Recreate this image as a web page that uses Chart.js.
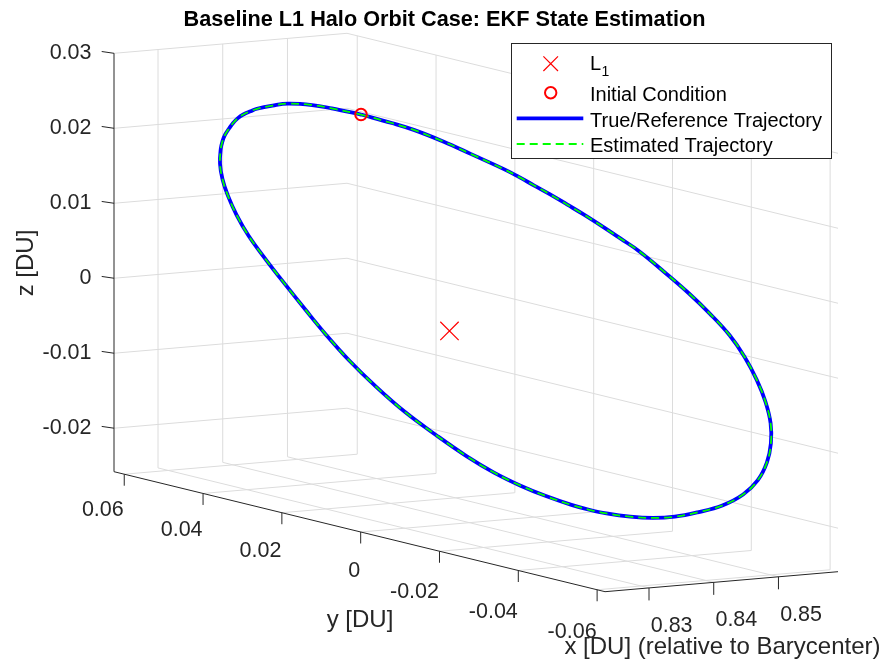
<!DOCTYPE html>
<html lang="en">
<head>
<meta charset="UTF-8">
<title>Baseline L1 Halo Orbit Case: EKF State Estimation</title>
<style>
    body { margin: 0; background: #ffffff; }
    #wrap { width: 889px; height: 663px; }
</style>
</head>
<body>
<div id="wrap"><canvas id="orbit" width="889" height="663"></canvas></div>

<script src="https://cdn.jsdelivr.net/npm/chart.js@4.4.1/dist/chart.umd.min.js"></script>
<script>
    // axis limits [DU] and ticks
    const xLim = [0.8232, 0.8592];
    const yLim = [-0.0620, 0.0626];
    const zLim = [-0.0258, 0.0300];
    const xTicks = [0.83, 0.84, 0.85];
    const yTicks = [0.06, 0.04, 0.02, 0, -0.02, -0.04, -0.06];
    const zTicks = [-0.02, -0.01, 0, 0.01, 0.02, 0.03];
    const xTickLabels = ['0.83', '0.84', '0.85'];
    const yTickLabels = ['0.06', '0.04', '0.02', '0', '-0.02', '-0.04', '-0.06'];
    const zTickLabels = ['-0.02', '-0.01', '0', '0.01', '0.02', '0.03'];

    // Earth-Moon L1 and the initial condition
    const l1 = [0.83692, 0, 0];
    const ic = [0.82325, 0, 0.02987];

    // reference halo orbit (one period, closed)
    const refX = [
        0.82325,
        0.82335, 0.82355, 0.82400, 0.82493, 0.82625, 0.82688, 0.82754, 0.82835, 0.82931,
        0.83031, 0.83153, 0.83261, 0.83390, 0.83583, 0.83787, 0.83989, 0.84211, 0.84420,
        0.84650, 0.84866, 0.85059, 0.85221, 0.85368, 0.85508, 0.85615, 0.85703, 0.85736,
        0.85776, 0.85811, 0.85834, 0.85847,
        0.85850,
        0.85847, 0.85834, 0.85811, 0.85776, 0.85736, 0.85703, 0.85615, 0.85508, 0.85368,
        0.85221, 0.85059, 0.84866, 0.84650, 0.84420, 0.84211, 0.83989, 0.83787, 0.83583,
        0.83390, 0.83261, 0.83153, 0.83031, 0.82931, 0.82835, 0.82754, 0.82688, 0.82625,
        0.82493, 0.82400, 0.82355, 0.82335,
        0.82325
    ];
    const refY = [
        0,
        -0.00761, -0.01290, -0.01977, -0.02520, -0.03134, -0.03398, -0.03692, -0.03961, -0.04241,
        -0.04499, -0.04812, -0.05053, -0.05308, -0.05644, -0.05916, -0.06111, -0.06257, -0.06294,
        -0.06224, -0.06092, -0.05904, -0.05645, -0.05303, -0.04842, -0.04293, -0.03621, -0.02937,
        -0.02293, -0.01676, -0.01070, -0.00445,
        0,
        0.00445, 0.01070, 0.01676, 0.02293, 0.02937, 0.03621, 0.04293, 0.04842, 0.05303,
        0.05645, 0.05904, 0.06092, 0.06224, 0.06294, 0.06257, 0.06111, 0.05916, 0.05644,
        0.05308, 0.05053, 0.04812, 0.04499, 0.04241, 0.03961, 0.03692, 0.03398, 0.03134,
        0.02520, 0.01977, 0.01290, 0.00761,
        0
    ];
    const refZ = [
        0.02987,
        0.02971, 0.02946, 0.02873, 0.02770, 0.02639, 0.02568, 0.02482, 0.02393, 0.02285,
        0.02177, 0.02035, 0.01911, 0.01768, 0.01513, 0.01255, 0.00997, 0.00707, 0.00407,
        0.00075, -0.00253, -0.00575, -0.00888, -0.01196, -0.01503, -0.01773, -0.02012, -0.02194,
        -0.02338, -0.02436, -0.02499, -0.02537,
        -0.02545,
        -0.02537, -0.02499, -0.02436, -0.02338, -0.02194, -0.02012, -0.01773, -0.01503, -0.01196,
        -0.00888, -0.00575, -0.00253, 0.00075, 0.00407, 0.00707, 0.00997, 0.01255, 0.01513,
        0.01768, 0.01911, 0.02035, 0.02177, 0.02285, 0.02393, 0.02482, 0.02568, 0.02639,
        0.02770, 0.02873, 0.02946, 0.02971,
        0.02987
    ];
    // EKF estimate sits on top of the reference at this scale
    const estX = refX;
    const estY = refY;
    const estZ = refZ;

    // view: screen spot of the (xmin, ymin, zmin) corner and the screen vector of each box edge
    const view = { origin: [605, 591.7], ex: [233, -20], ey: [-491, -120], ez: [0, -418.4] };

    function project(x, y, z) {
        const fx = (x - xLim[0]) / (xLim[1] - xLim[0]);
        const fy = (y - yLim[0]) / (yLim[1] - yLim[0]);
        const fz = (z - zLim[0]) / (zLim[1] - zLim[0]);
        return {
            x: view.origin[0] + fx * view.ex[0] + fy * view.ey[0] + fz * view.ez[0],
            y: view.origin[1] + fx * view.ex[1] + fy * view.ey[1] + fz * view.ez[1]
        };
    }

    function track(xs, ys, zs) {
        return xs.map((x, i) => project(x, ys[i], zs[i]));
    }

    const FONT = '"Liberation Sans", Arial, Helvetica, sans-serif';
    const AXIS_COLOR = '#262626';
    const GRID_COLOR = '#dcdcdc';

    function label(ctx, str, x, y, align, font, color) {
        ctx.font = font;
        ctx.fillStyle = color;
        ctx.textAlign = align;
        ctx.textBaseline = 'alphabetic';
        ctx.fillText(str, x, y);
    }

    // grid on the back walls and floor, rulers with ticks
    const axes3d = {
        id: 'axes3d',
        beforeDatasetsDraw(chart) {
            const ctx = chart.ctx;
            const sx = chart.scales.x, sy = chart.scales.y;
            const px = p => [sx.getPixelForValue(p.x), sy.getPixelForValue(p.y)];
            const seg = (a, b) => {
                const p = px(a), q = px(b);
                ctx.moveTo(p[0], p[1]);
                ctx.lineTo(q[0], q[1]);
            };

            ctx.save();
            ctx.lineWidth = 1;
            ctx.strokeStyle = GRID_COLOR;
            ctx.beginPath();
            zTicks.forEach(z => {
                seg(project(xLim[0], yLim[1], z), project(xLim[1], yLim[1], z));
                seg(project(xLim[1], yLim[1], z), project(xLim[1], yLim[0], z));
            });
            xTicks.forEach(x => {
                seg(project(x, yLim[1], zLim[0]), project(x, yLim[1], zLim[1]));
                seg(project(x, yLim[0], zLim[0]), project(x, yLim[1], zLim[0]));
            });
            yTicks.forEach(y => {
                seg(project(xLim[1], y, zLim[0]), project(xLim[1], y, zLim[1]));
                seg(project(xLim[0], y, zLim[0]), project(xLim[1], y, zLim[0]));
            });
            ctx.stroke();

            ctx.strokeStyle = AXIS_COLOR;
            ctx.beginPath();
            seg(project(xLim[0], yLim[1], zLim[0]), project(xLim[0], yLim[1], zLim[1]));
            seg(project(xLim[0], yLim[0], zLim[0]), project(xLim[0], yLim[1], zLim[0]));
            seg(project(xLim[0], yLim[0], zLim[0]), project(xLim[1], yLim[0], zLim[0]));
            zTicks.forEach(z => {
                const p = px(project(xLim[0], yLim[1], z));
                ctx.moveTo(p[0], p[1]);
                ctx.lineTo(p[0] - 12.3, p[1] - 1.8);
            });
            yTicks.forEach(y => {
                const p = px(project(xLim[0], y, zLim[0]));
                ctx.moveTo(p[0], p[1]);
                ctx.lineTo(p[0], p[1] + 11.5);
            });
            xTicks.forEach(x => {
                const p = px(project(x, yLim[0], zLim[0]));
                ctx.moveTo(p[0], p[1]);
                ctx.lineTo(p[0], p[1] + 12.5);
            });
            ctx.stroke();
            ctx.restore();
        },
        afterDatasetsDraw(chart) {
            const ctx = chart.ctx;
            const sx = chart.scales.x, sy = chart.scales.y;
            const px = p => [sx.getPixelForValue(p.x), sy.getPixelForValue(p.y)];
            const tickFont = '21.5px ' + FONT;
            const lblFont = '24px ' + FONT;

            ctx.save();
            zTicks.forEach((z, i) => {
                const p = px(project(xLim[0], yLim[1], z));
                label(ctx, zTickLabels[i], p[0] - 22.5, p[1] + 5.7, 'right', tickFont, AXIS_COLOR);
            });
            yTicks.forEach((y, i) => {
                const p = px(project(xLim[0], y, zLim[0]));
                const dy = 34 + 7 * (0.06 - y) / 0.12;
                label(ctx, yTickLabels[i], p[0] - 0.5, p[1] + dy + 7.7, 'right', tickFont, AXIS_COLOR);
            });
            xTicks.forEach((x, i) => {
                const p = px(project(x, yLim[0], zLim[0]));
                label(ctx, xTickLabels[i], p[0] + 1.7, p[1] + 36 + 7.7, 'left', tickFont, AXIS_COLOR);
            });

            // axis titles
            label(ctx, 'y [DU]', 360, 627, 'center', lblFont, AXIS_COLOR);
            label(ctx, 'x [DU] (relative to Barycenter)', 722.5, 654, 'center', lblFont, AXIS_COLOR);
            ctx.save();
            ctx.translate(33, 263);
            ctx.rotate(-Math.PI / 2);
            label(ctx, 'z [DU]', 0, 0, 'center', lblFont, AXIS_COLOR);
            ctx.restore();

            // title
            label(ctx, 'Baseline L1 Halo Orbit Case: EKF State Estimation', 444.5, 26, 'center', 'bold 21.7px ' + FONT, '#000000');

            // legend
            const box = { left: 511.5, top: 43.5, width: 320, height: 115 };
            ctx.fillStyle = '#ffffff';
            ctx.fillRect(box.left, box.top, box.width, box.height);
            ctx.strokeStyle = AXIS_COLOR;
            ctx.lineWidth = 1;
            ctx.strokeRect(box.left, box.top, box.width, box.height);

            const legFont = '20px ' + FONT;
            const sets = chart.data.datasets;
            const rows = [
                { cy: 63.7, base: 69.5 },
                { cy: 92.7, base: 101.3 },
                { cy: 118.3, base: 126.5 },
                { cy: 144, base: 151.5 }
            ];
            const mx = 550.7, tx = 590;

            // L1 cross
            ctx.strokeStyle = sets[0].borderColor;
            ctx.lineWidth = 1.2;
            ctx.beginPath();
            ctx.moveTo(mx - 7.3, rows[0].cy - 7.3); ctx.lineTo(mx + 7.3, rows[0].cy + 7.3);
            ctx.moveTo(mx + 7.3, rows[0].cy - 7.3); ctx.lineTo(mx - 7.3, rows[0].cy + 7.3);
            ctx.stroke();
            label(ctx, 'L', tx, rows[0].base, 'left', legFont, '#000000');
            ctx.font = legFont;
            const lw = ctx.measureText('L').width;
            label(ctx, '1', tx + lw + 0.5, rows[0].base + 6, 'left', '14px ' + FONT, '#000000');

            // initial condition circle
            ctx.strokeStyle = sets[1].borderColor;
            ctx.lineWidth = 2;
            ctx.beginPath();
            ctx.arc(mx, rows[1].cy, 5.7, 0, Math.PI * 2);
            ctx.stroke();
            label(ctx, sets[1].label, tx, rows[1].base, 'left', legFont, '#000000');

            // trajectories
            [2, 3].forEach(k => {
                const r = rows[k];
                ctx.strokeStyle = sets[k].borderColor;
                ctx.lineWidth = sets[k].borderWidth;
                ctx.setLineDash(sets[k].borderDash || []);
                ctx.beginPath();
                ctx.moveTo(516.7, r.cy);
                ctx.lineTo(583.3, r.cy);
                ctx.stroke();
                ctx.setLineDash([]);
                label(ctx, sets[k].label, tx, r.base, 'left', legFont, '#000000');
            });
            ctx.restore();
        }
    };

    new Chart(document.getElementById('orbit'), {
        type: 'scatter',
        data: {
            datasets: [
                {
                    label: 'L1',
                    data: [project(l1[0], l1[1], l1[2])],
                    pointStyle: 'crossRot',
                    pointRadius: 13,
                    borderColor: '#ff0000',
                    borderWidth: 1.2,
                    order: 0
                },
                {
                    label: 'Initial Condition',
                    data: [project(ic[0], ic[1], ic[2])],
                    pointStyle: 'circle',
                    pointRadius: 5.8,
                    borderColor: '#ff0000',
                    backgroundColor: 'rgba(0,0,0,0)',
                    borderWidth: 2,
                    order: 1
                },
                {
                    label: 'True/Reference Trajectory',
                    data: track(refX, refY, refZ),
                    showLine: true,
                    borderColor: '#0000ff',
                    borderWidth: 3.8,
                    pointRadius: 0,
                    tension: 0.4,
                    order: 3
                },
                {
                    label: 'Estimated Trajectory',
                    data: track(estX, estY, estZ),
                    showLine: true,
                    borderColor: '#00ff00',
                    borderWidth: 1.8,
                    borderDash: [8, 5],
                    pointRadius: 0,
                    tension: 0.4,
                    order: 2
                }
            ]
        },
        options: {
            responsive: false,
            devicePixelRatio: 1,
            animation: false,
            events: [],
            layout: { padding: 0, autoPadding: false },
            scales: {
                x: { type: 'linear', min: 0, max: 889, display: false },
                y: { type: 'linear', min: 0, max: 663, reverse: true, display: false }
            },
            plugins: {
                legend: { display: false },
                title: { display: false },
                tooltip: { enabled: false }
            }
        },
        plugins: [axes3d]
    });
</script>
</body>
</html>
